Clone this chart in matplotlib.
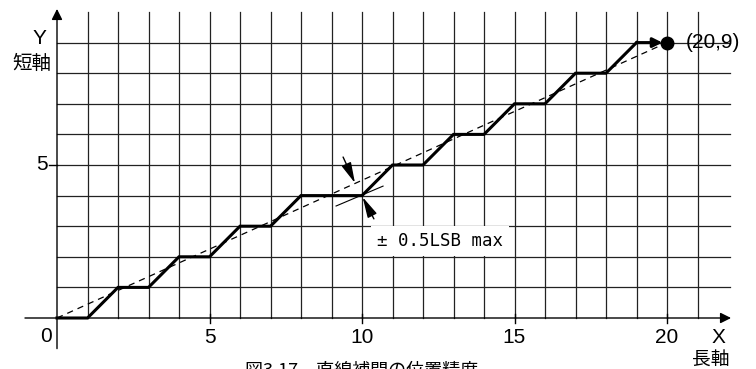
import matplotlib
matplotlib.use("Agg")
import matplotlib.pyplot as plt

plt.rcParams['font.family'] = ['Liberation Sans', 'Noto Sans CJK JP', 'DejaVu Sans']

# ---- data ----
x_steps = list(range(0, 21))
y_steps = [0, 0, 1, 1, 2, 2, 3, 3, 4, 4, 4, 5, 5, 6, 6, 7, 7, 8, 8, 9, 9]
ideal_start = (0, 0)
end_point = (20, 9)
x_ticks = [5, 10, 15, 20]
y_ticks = [5]
grid_x = list(range(1, 22))
grid_y = list(range(1, 10))
err_point = (10, 4)
err_label = "± 0.5LSB max"
end_label = "(20,9)"
caption = "図3.17　直線補間の位置精度"

W, H = 756, 369
fig = plt.figure(figsize=(W / 100, H / 100), dpi=100)
ax = fig.add_axes([0, 0, 1, 1])
ax.set_axis_off()
# pixel mapping: origin at (57,318), 30.5 px per x unit, 30.6 px per y unit
sx, sy = 30.5, 30.6
ax.set_xlim(-57 / sx, (W - 57) / sx)
ax.set_ylim(-(H - 318) / sy, 318 / sy)

gc = '#222222'
glw = 0.9
# grid
for gx in grid_x:
    ax.plot([gx, gx], [0, 10], color=gc, lw=glw, zorder=1)
for gy in grid_y:
    ax.plot([0, 22.05], [gy, gy], color=gc, lw=glw, zorder=1)

# axes with arrows
ax.annotate('', xy=(22.1, 0), xytext=(-1.05, 0),
            arrowprops=dict(arrowstyle='-|>', color='black', lw=1.0,
                            mutation_scale=16, shrinkA=0, shrinkB=0), zorder=3)
ax.annotate('', xy=(0, 10.1), xytext=(0, -1.0),
            arrowprops=dict(arrowstyle='-|>', color='black', lw=1.0,
                            mutation_scale=16, shrinkA=0, shrinkB=0), zorder=3)

fs = 15
# ticks
for t in x_ticks:
    ax.plot([t, t], [-0.15, 0.12], color='black', lw=1.0, zorder=3)
    ax.text(t, -0.33, str(t), ha='center', va='top', fontsize=fs)
for t in y_ticks:
    ax.plot([-0.25, 0], [t, t], color='black', lw=1.0, zorder=3)
    ax.text(-0.3, t, str(t), ha='right', va='center', fontsize=fs)

ax.text(-0.16, -0.28, '0', ha='right', va='top', fontsize=fs)
ax.text(21.7, -0.33, 'X', ha='center', va='top', fontsize=fs)
ax.text(21.45, -1.02, '長軸', ha='center', va='top', fontsize=13.5,
        family=['Noto Sans CJK JP'])
ax.text(-0.56, 9.15, 'Y', ha='center', va='center', fontsize=fs)
ax.text(-0.2, 8.33, '短軸', ha='right', va='center', fontsize=14,
        family=['Noto Sans CJK JP'])

# ideal dashed line
ax.plot([ideal_start[0], end_point[0]], [ideal_start[1], end_point[1]],
        color='black', lw=0.9, ls=(0, (5, 4)), zorder=2)

# staircase
ax.plot(x_steps[:-1], y_steps[:-1], color='black', lw=2.2, zorder=4,
        solid_joinstyle='miter')
ax.annotate('', xy=(end_point[0] - 0.15, end_point[1]),
            xytext=(x_steps[-2], y_steps[-2]),
            arrowprops=dict(arrowstyle='-|>', color='black', lw=2.2,
                            mutation_scale=14, shrinkA=0, shrinkB=0), zorder=4)
ax.plot([end_point[0]], [end_point[1]], 'o', color='black', ms=9, zorder=5)
ax.text(20.6, 9, end_label, ha='left', va='center', fontsize=fs)

# error indicator
ex, ey = err_point
ax.plot([9.15, 10.69], [3.66, 4.31], color='black', lw=0.8, zorder=4)
astyle = '-|>,head_length=0.9,head_width=0.22'
ax.annotate('', xy=(9.77, 4.41), xytext=(9.38, 5.26),
            arrowprops=dict(arrowstyle=astyle, color='black', lw=1.0,
                            mutation_scale=14, shrinkA=0, shrinkB=0), zorder=5)
ax.annotate('', xy=(10.02, 3.95), xytext=(10.39, 3.24),
            arrowprops=dict(arrowstyle=astyle, color='black', lw=1.0,
                            mutation_scale=14, shrinkA=0, shrinkB=0), zorder=5)
ax.text(12.56, 2.52, err_label, ha='center', va='center', fontsize=12.5,
        family=['DejaVu Sans Mono'],
        bbox=dict(boxstyle='square,pad=0.35', fc='white', ec='none'), zorder=6)

# caption (partially cut at bottom, as in the reference)
ax.text(10, -1.42, caption, ha='center', va='top', fontsize=13,
        family=['Noto Sans CJK JP'])

fig.savefig('out.png', dpi=100)
